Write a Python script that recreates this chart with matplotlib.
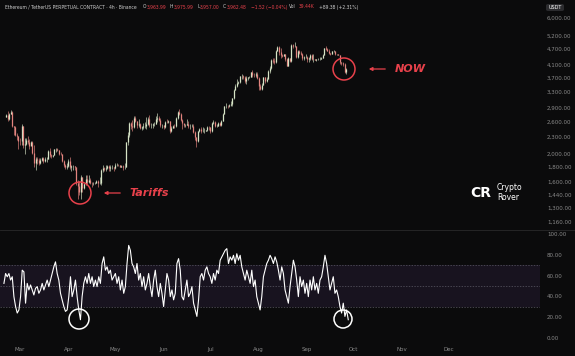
import numpy as np
import matplotlib.pyplot as plt
from matplotlib.patches import Ellipse, FancyArrowPatch, FancyBboxPatch
from matplotlib.lines import Line2D
from matplotlib.ticker import NullLocator

W, H = 575, 356

# ETH/USDT, one bar per day, Feb 20 -> Sep 26 (day 0 = Mar 1)
first_day = -9
first_open = 2700
closes = [2740, 2660, 2760, 2820, 2510, 2490, 2330, 2310, 2230,
          2220, 2520, 2150, 2170, 2240, 2200, 2140, 2200, 2020, 1860, 1920, 1910, 1860, 1910, 1940, 1890,
          1930, 1930, 2060, 1980, 1970, 1980, 2080, 2080, 2070, 2010, 2000, 1900, 1830, 1800, 1820,
          1900, 1800, 1815, 1815, 1800, 1580, 1550, 1470, 1670, 1520, 1570, 1640, 1600, 1620, 1590,
          1580, 1580, 1590, 1610, 1580, 1580, 1760, 1790, 1770, 1790, 1820, 1790, 1800, 1800, 1790,
          1840, 1840, 1830, 1810, 1820, 1810, 1810, 2200, 2340, 2580, 2510, 2500, 2680, 2610, 2540,
          2550, 2480, 2500, 2520, 2520, 2550, 2660, 2530, 2530, 2550, 2560, 2660, 2680, 2630, 2530, 2530,
          2500, 2600, 2590, 2610, 2420, 2480, 2520, 2510, 2680, 2820, 2770, 2640, 2580, 2530, 2540,
          2550, 2510, 2520, 2520, 2400, 2290, 2230, 2410, 2450, 2420, 2420, 2420, 2430, 2500, 2490,
          2410, 2570, 2590, 2510, 2520, 2570, 2540, 2620, 2770, 2950, 2960, 2940, 2970, 3010, 3140,
          3370, 3470, 3550, 3590, 3750, 3760, 3740, 3620, 3710, 3720, 3740, 3870, 3800, 3790, 3810, 3700,
          3480, 3390, 3500, 3720, 3610, 3680, 3910, 4010, 4260, 4250, 4220, 4600, 4750, 4550, 4440,
          4430, 4480, 4310, 4080, 4340, 4230, 4830, 4780, 4780, 4380, 4600, 4510, 4500, 4360, 4370, 4390,
          4310, 4330, 4450, 4300, 4300, 4270, 4300, 4310, 4310, 4350, 4460, 4710, 4670, 4610, 4520,
          4500, 4590, 4600, 4470, 4480, 4450, 4200, 4170, 4150, 3870, 3962]
highs = [2770, 2840, 2780, 2850, 2830, 2520, 2520, 2380, 2320,
         2280, 2550, 2520, 2280, 2280, 2320, 2260, 2230, 2220, 2150, 1960, 1960, 1940, 1940, 1960, 1950,
         1950, 1950, 2070, 2110, 2000, 1990, 2090, 2100, 2100, 2070, 2040, 2000, 1910, 1850, 1860,
         1920, 1950, 1830, 1830, 1820, 1810, 1630, 1610, 1690, 1670, 1590, 1690, 1690, 1690, 1650,
         1600, 1600, 1600, 1620, 1620, 1660, 1770, 1830, 1800, 1830, 1830, 1830, 1840, 1840, 1810,
         1870, 1860, 1850, 1840, 1840, 1830, 1860, 2210, 2390, 2600, 2590, 2640, 2730, 2720, 2620,
         2650, 2580, 2510, 2570, 2600, 2700, 2690, 2740, 2570, 2570, 2600, 2720, 2790, 2730, 2670, 2560,
         2540, 2620, 2660, 2640, 2620, 2520, 2530, 2550, 2690, 2830, 2880, 2780, 2650, 2560, 2560,
         2650, 2610, 2560, 2560, 2560, 2420, 2290, 2420, 2480, 2500, 2490, 2470, 2440, 2510, 2520,
         2500, 2600, 2640, 2620, 2550, 2590, 2600, 2630, 2790, 2960, 3030, 2980, 3000, 3070, 3150,
         3390, 3510, 3680, 3600, 3760, 3810, 3790, 3760, 3750, 3730, 3770, 3880, 3940, 3860, 3870, 3880,
         3720, 3520, 3540, 3740, 3730, 3720, 3930, 4070, 4320, 4330, 4330, 4630, 4780, 4790, 4700,
         4480, 4500, 4480, 4340, 4380, 4350, 4880, 4880, 4960, 4780, 4640, 4640, 4610, 4540, 4400, 4490,
         4400, 4370, 4490, 4480, 4480, 4310, 4320, 4340, 4380, 4390, 4470, 4720, 4770, 4700, 4660,
         4540, 4600, 4620, 4600, 4500, 4480, 4450, 4220, 4200, 4160, 4000]
lows = [2710, 2620, 2640, 2760, 2500, 2330, 2320, 2250, 2080,
        2160, 2150, 2100, 2000, 2150, 2170, 2080, 2170, 2000, 1800, 1760, 1850, 1830, 1850, 1900, 1870,
        1880, 1880, 1920, 1960, 1940, 1950, 1980, 2040, 2050, 1990, 1990, 1880, 1810, 1780, 1780,
        1810, 1780, 1750, 1760, 1760, 1560, 1390, 1440, 1390, 1480, 1510, 1560, 1570, 1590, 1570,
        1540, 1560, 1570, 1580, 1540, 1570, 1560, 1730, 1740, 1750, 1780, 1750, 1740, 1780, 1740,
        1780, 1820, 1820, 1800, 1800, 1760, 1780, 1800, 2150, 2300, 2460, 2420, 2480, 2590, 2480,
        2490, 2450, 2430, 2450, 2480, 2450, 2530, 2500, 2470, 2470, 2520, 2550, 2600, 2620, 2500, 2480,
        2460, 2480, 2570, 2580, 2380, 2400, 2470, 2480, 2490, 2660, 2740, 2620, 2450, 2500, 2490,
        2530, 2480, 2460, 2500, 2370, 2240, 2120, 2200, 2400, 2380, 2390, 2380, 2410, 2420, 2440,
        2380, 2400, 2560, 2500, 2500, 2510, 2520, 2520, 2610, 2770, 2910, 2910, 2930, 2960, 2940,
        3120, 3360, 3430, 3510, 3560, 3670, 3660, 3550, 3510, 3630, 3700, 3720, 3730, 3730, 3720, 3680,
        3360, 3360, 3360, 3490, 3550, 3580, 3660, 3840, 3990, 4170, 4150, 4190, 4590, 4450, 4350,
        4380, 4420, 4250, 4060, 4080, 4210, 4210, 4700, 4750, 4340, 4350, 4490, 4460, 4280, 4290, 4360,
        4210, 4210, 4280, 4260, 4220, 4260, 4250, 4270, 4280, 4300, 4330, 4440, 4620, 4580, 4490,
        4460, 4470, 4570, 4460, 4460, 4440, 4150, 4100, 4080, 3840, 3820]

# RSI(14)
rsi = [52.5, 62, 58.9, 62, 55.7, 58.9, 39.8, 30.3, 24, 27, 39.8, 65.2, 63.6, 33.5, 52.5, 46.2, 51, 46.2,
       41.4, 47.8, 49.4, 43, 46.2, 52.5, 46.2, 51, 55.7, 49.4, 55.7, 62, 68.4, 73.2, 62, 55.7, 43, 36.7,
       30.3, 25.6, 27, 39.8, 58.9, 39.8, 46.2, 55.7, 39.8, 27, 17.6, 39.8, 52.5, 58.9, 52.5, 62, 52.5,
       58.9, 49.4, 55.7, 49.4, 58.9, 52.5, 71.6, 78, 65.2, 68.4, 62, 65.2, 55.7, 58.9, 62, 52.5, 58.9,
       46.2, 55.7, 43, 49.4, 71.6, 89, 84.3, 71.6, 68.4, 62, 71.6, 55.7, 62, 49.4, 58.9, 46.2, 52.5, 62,
       49.4, 39.8, 55.7, 65.2, 49.4, 39.8, 52.5, 43, 30.3, 46.2, 62, 55.7, 39.8, 46.2, 36.7, 43, 71.6,
       76.3, 65.2, 39.8, 36.7, 46.2, 55.7, 39.8, 43, 49.4, 33.5, 27, 20.8, 36.7, 58.9, 62, 55.7, 65.2,
       68.4, 62, 58.9, 52.5, 62, 55.7, 65.2, 62, 74.8, 78, 81, 84.3, 85.9, 71.6, 78, 74.8, 79.5, 71.6,
       81, 74.8, 79.5, 68.4, 62, 55.7, 65.2, 58.9, 52.5, 65.2, 49.4, 55.7, 39.8, 33.5, 27, 39.8, 58.9,
       65.2, 71.6, 74.8, 79.5, 76.3, 71.6, 78, 73.2, 65.2,
       55.7, 68.4, 62, 46.2, 39.8, 33.5, 49.4, 62, 74.8, 68.4, 55.7, 39.8, 58.9, 49.4, 55.7, 43, 52.5,
       39.8, 55.7, 46.2, 58.9, 46.2, 52.5, 43, 55.7, 58.9, 68.4, 79.5, 71.6, 58.9, 46.2, 52.5, 58.9, 43,
       46.2, 39.8, 30.3, 24, 33.5, 20.8, 27, 17.6]
rsi_start, rsi_end = -10.3, 210.4

price_ticks = [1160, 1300, 1440, 1600, 1800, 2000, 2300, 2600, 2900, 3300, 3700, 4100, 4700, 5200, 6000]
rsi_ticks = [0, 20, 40, 60, 80, 100]
months = ['Mar', 'Apr', 'May', 'Jun', 'Jul', 'Aug', 'Sep', 'Oct', 'Nov', 'Dec']
month_days = [0, 31, 61, 92, 122, 153, 184, 214, 245, 275]

bg = '#0b0b0c'
grey = '#8a8a8a'
red = '#e8414b'
up_c, dn_c = '#d6e4c6', '#e3847f'


def fx(x):
    return x / W


def fy(y):
    return 1 - y / H


fig = plt.figure(figsize=(W / 100, H / 100), dpi=100, facecolor=bg)

# price pane
ax = fig.add_axes([0, fy(229), fx(540), 229 / H])
ax.set_facecolor(bg)
days = np.arange(first_day, first_day + len(closes))
opens = np.array([first_open] + closes[:-1])
closes_a = np.array(closes)
col = np.where(closes_a >= opens, up_c, dn_c)
ax.vlines(days, lows, highs, colors=col, lw=0.45)
ax.vlines(days, np.minimum(opens, closes_a), np.maximum(opens, closes_a), colors=col, lw=0.9)
ax.set_yscale('log')
ax.set_ylim(1094, 6937)
ax.set_xlim(-12.82, 333.3)
ax.yaxis.tick_right()
ax.set_yticks(price_ticks)
ax.set_yticklabels([f"{v:,.2f}" for v in price_ticks])
ax.yaxis.set_minor_locator(NullLocator())
ax.tick_params(axis='y', length=0, pad=5, labelsize=4, labelcolor=grey)
ax.set_xticks([])
for s in ax.spines.values():
    s.set_visible(False)

# RSI pane
ax2 = fig.add_axes([0, fy(342), fx(540), 112 / H])
ax2.set_facecolor(bg)
ax2.axhspan(30, 70, color='#18131f', lw=0)
for lvl in (30, 50, 70):
    ax2.axhline(lvl, color='#5c5a66', lw=0.5, dashes=(2, 2))
ax2.plot(np.linspace(rsi_start, rsi_end, len(rsi)), rsi, color='white', lw=0.8)
ax2.set_ylim(-3.8, 103.8)
ax2.set_xlim(-12.82, 333.3)
ax2.yaxis.tick_right()
ax2.set_yticks(rsi_ticks)
ax2.set_yticklabels([f"{v:.2f}" for v in rsi_ticks])
ax2.set_xticks(month_days)
ax2.set_xticklabels(months)
ax2.tick_params(length=0, labelsize=4, labelcolor=grey)
ax2.tick_params(axis='y', pad=5)
ax2.tick_params(axis='x', pad=3.5)
for s in ax2.spines.values():
    s.set_visible(False)

fig.add_artist(Line2D([0, 1], [fy(229.5), fy(229.5)], color='#2a2a2a', lw=0.6))

# header
hdr = [(5, "Ethereum / TetherUS PERPETUAL CONTRACT · 4h · Binance", '#cfcfcf'),
       (143, "O", '#cfcfcf'), (147, "3,963.99", red),
       (170, "H", '#cfcfcf'), (174, "3,975.99", red),
       (197, "L", '#cfcfcf'), (200, "3,957.00", red),
       (223, "C", '#cfcfcf'), (227, "3,962.48", red),
       (251, "−1.52 (−0.04%)", red),
       (289, "Vol", '#cfcfcf'), (299, "39.44K", red),
       (319, "+89.38 (+2.31%)", '#cfcfcf')]
for x, t, c in hdr:
    fig.text(fx(x), fy(7), t, color=c, fontsize=3.25, va='center', ha='left')
fig.add_artist(FancyBboxPatch((fx(546), fy(11)), fx(18), 7 / H, boxstyle='round,pad=0,rounding_size=0.004',
                              transform=fig.transFigure, fc='#2b2b2e', ec='none'))
fig.text(fx(555), fy(7.5), "USDT", color='white', fontsize=3.5, ha='center', va='center')

# annotations
fig.add_artist(Ellipse((fx(80), fy(193)), 22 / W, 22 / H, transform=fig.transFigure,
                       fill=False, ec=red, lw=1.1))
fig.add_artist(FancyArrowPatch((fx(123), fy(193)), (fx(101), fy(193)), transform=fig.transFigure,
                               arrowstyle='-|>', mutation_scale=5, color=red, lw=0.9))
fig.text(fx(129), fy(193), "Tariffs", color=red, fontsize=8, fontweight='bold', fontstyle='italic',
         ha='left', va='center')

fig.add_artist(Ellipse((fx(344), fy(69)), 22 / W, 22 / H, transform=fig.transFigure,
                       fill=False, ec=red, lw=1.1))
fig.add_artist(FancyArrowPatch((fx(388), fy(69)), (fx(366), fy(69)), transform=fig.transFigure,
                               arrowstyle='-|>', mutation_scale=5, color=red, lw=0.9))
fig.text(fx(395), fy(69), "NOW", color=red, fontsize=8, fontweight='bold', fontstyle='italic',
         ha='left', va='center')

fig.add_artist(Ellipse((fx(79), fy(319)), 20 / W, 20 / H, transform=fig.transFigure,
                       fill=False, ec='white', lw=1.1))
fig.add_artist(Ellipse((fx(343), fy(319)), 18 / W, 18 / H, transform=fig.transFigure,
                       fill=False, ec='white', lw=1.1))

# logo
fig.text(fx(481), fy(193), "CR", color='white', fontsize=10, fontweight='bold', ha='center', va='center')
fig.text(fx(497), fy(188), "Crypto", color='white', fontsize=5.5, ha='left', va='center')
fig.text(fx(497), fy(197.5), "Rover", color='white', fontsize=5.5, ha='left', va='center')

fig.savefig('out.png', dpi=100, facecolor=bg)
